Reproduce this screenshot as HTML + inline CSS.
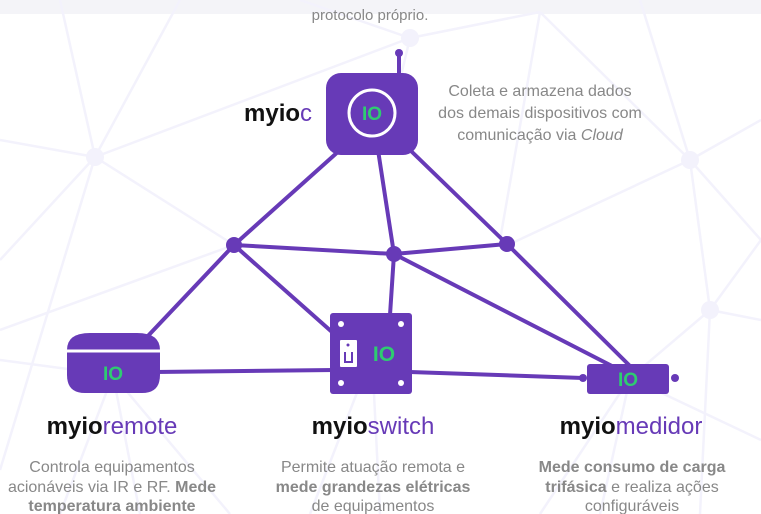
<!DOCTYPE html>
<html><head><meta charset="utf-8"><style>
html,body{margin:0;padding:0;background:#fff;}
body{width:761px;height:514px;overflow:hidden;position:relative;font-family:"Liberation Sans",sans-serif;}
svg{position:absolute;left:0;top:0;}
.t{font-family:"Liberation Sans",sans-serif;}
</style></head><body>
<svg width="761" height="514" viewBox="0 0 761 514">
<rect x="0" y="0" width="761" height="14" fill="#f4f4f8"/>
<g stroke="#f3f2fc" stroke-width="2.5" fill="none">
<line x1="95" y1="157" x2="410" y2="38"/>
<line x1="95" y1="157" x2="0" y2="140"/>
<line x1="95" y1="157" x2="60" y2="0"/>
<line x1="95" y1="157" x2="180" y2="0"/>
<line x1="95" y1="157" x2="0" y2="260"/>
<line x1="95" y1="157" x2="234" y2="245"/>
<line x1="95" y1="157" x2="0" y2="470"/>
<line x1="410" y1="38" x2="300" y2="0"/>
<line x1="410" y1="38" x2="540" y2="12"/>
<line x1="410" y1="38" x2="400" y2="80"/>
<line x1="540" y1="12" x2="690" y2="160"/>
<line x1="540" y1="12" x2="500" y2="240"/>
<line x1="690" y1="160" x2="761" y2="120"/>
<line x1="690" y1="160" x2="761" y2="240"/>
<line x1="690" y1="160" x2="710" y2="310"/>
<line x1="690" y1="160" x2="510" y2="244"/>
<line x1="690" y1="160" x2="640" y2="0"/>
<line x1="710" y1="310" x2="761" y2="320"/>
<line x1="710" y1="310" x2="761" y2="240"/>
<line x1="710" y1="310" x2="630" y2="378"/>
<line x1="710" y1="310" x2="700" y2="514"/>
<line x1="0" y1="330" x2="234" y2="245"/>
<line x1="0" y1="360" x2="113" y2="375"/>
<line x1="113" y1="375" x2="60" y2="514"/>
<line x1="113" y1="375" x2="140" y2="514"/>
<line x1="113" y1="375" x2="230" y2="514"/>
<line x1="372" y1="354" x2="310" y2="514"/>
<line x1="372" y1="354" x2="380" y2="514"/>
<line x1="630" y1="378" x2="540" y2="514"/>
<line x1="630" y1="378" x2="600" y2="514"/>
<line x1="630" y1="378" x2="761" y2="440"/>
</g>
<g fill="#f3f2fc"><circle cx="95" cy="157" r="9"/><circle cx="410" cy="38" r="9"/><circle cx="690" cy="160" r="9"/><circle cx="710" cy="310" r="9"/></g>
<g stroke="#673ab7" stroke-width="4" fill="none" stroke-linecap="round">
<line x1="340" y1="150" x2="234" y2="245"/>
<line x1="378" y1="150" x2="394" y2="254"/>
<line x1="410" y1="150" x2="507" y2="244"/>
<line x1="234" y1="245" x2="394" y2="254"/>
<line x1="394" y1="254" x2="507" y2="244"/>
<line x1="234" y1="245" x2="146" y2="338"/>
<line x1="234" y1="245" x2="332" y2="332"/>
<line x1="394" y1="254" x2="390" y2="315"/>
<line x1="394" y1="254" x2="612" y2="366"/>
<line x1="507" y1="244" x2="630" y2="366"/>
<line x1="155" y1="372" x2="335" y2="370"/>
<line x1="410" y1="372" x2="583" y2="378"/>
<line x1="399" y1="53" x2="399" y2="76"/>
</g>
<g fill="#673ab7">
<circle cx="399" cy="53" r="4"/>
<circle cx="234" cy="245" r="8"/><circle cx="394" cy="254" r="8"/><circle cx="507" cy="244" r="8"/>
<rect x="326" y="73" width="92" height="82" rx="15"/>
<path d="M67 350 Q67 333 90 333 L137 333 Q160 333 160 350 L160 375 Q160 393 142 393 L85 393 Q67 393 67 375 Z"/>
<rect x="330" y="313" width="82" height="81" rx="3"/>
<rect x="587" y="364" width="82" height="30" rx="3"/>
<circle cx="583" cy="378" r="4"/><circle cx="675" cy="378" r="4"/>
</g>
<circle cx="372" cy="113" r="23" fill="none" stroke="#fff" stroke-width="3"/>
<line x1="67" y1="351" x2="160" y2="351" stroke="#fff" stroke-width="3"/>
<g fill="#fff"><circle cx="341" cy="324" r="3"/><circle cx="401" cy="324" r="3"/><circle cx="341" cy="383" r="3"/><circle cx="401" cy="383" r="3"/>
<rect x="340" y="340" width="17" height="27" rx="1"/></g>
<circle cx="348" cy="345" r="1.5" fill="#673ab7"/>
<path d="M345 352 L345 362 L352 362 L352 352" stroke="#673ab7" stroke-width="2" fill="none"/>
<g class="t" fill="#2ecc71" font-weight="bold" font-size="19" text-anchor="middle">
<text x="372" y="120">IO</text><text x="113" y="380">IO</text><text x="384" y="361" font-size="21">IO</text><text x="628" y="386">IO</text>
</g>
<g class="t" fill="#888" font-size="16" text-anchor="middle">
<text x="370" y="20" font-size="15">protocolo próprio.</text>
<text x="540" y="96">Coleta e armazena dados</text>
<text x="540" y="118">dos demais dispositivos com</text>
<text x="540" y="140">comunicação via <tspan font-style="italic">Cloud</tspan></text>
<text x="112" y="472">Controla equipamentos</text>
<text x="112" y="492">acionáveis via IR e RF. <tspan font-weight="bold">Mede</tspan></text>
<text x="112" y="511" font-weight="bold">temperatura ambiente</text>
<text x="373" y="472">Permite atuação remota e</text>
<text x="373" y="492" font-weight="bold">mede grandezas elétricas</text>
<text x="373" y="511">de equipamentos</text>
<text x="632" y="472" font-weight="bold">Mede consumo de carga</text>
<text x="632" y="492"><tspan font-weight="bold">trifásica</tspan> e realiza ações</text>
<text x="632" y="511">configuráveis</text>
</g>
<g class="t" font-size="24">
<text x="244" y="121"><tspan font-weight="bold" fill="#111">myio</tspan><tspan fill="#673ab7">c</tspan></text>
<text x="112" y="434" text-anchor="middle"><tspan font-weight="bold" fill="#111">myio</tspan><tspan fill="#673ab7">remote</tspan></text>
<text x="373" y="434" text-anchor="middle"><tspan font-weight="bold" fill="#111">myio</tspan><tspan fill="#673ab7">switch</tspan></text>
<text x="631" y="434" text-anchor="middle"><tspan font-weight="bold" fill="#111">myio</tspan><tspan fill="#673ab7">medidor</tspan></text>
</g>
</svg>
</body></html>
